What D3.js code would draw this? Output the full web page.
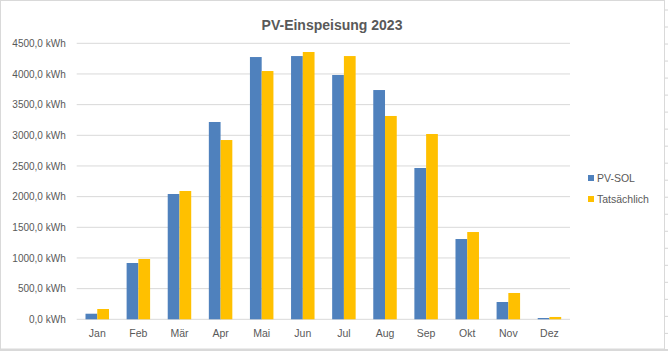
<!DOCTYPE html>
<html>
<head>
<meta charset="utf-8">
<script src="https://cdn.jsdelivr.net/npm/d3@7"></script>
<style>
  body { margin: 0; background: #fff; }
  svg text { font-family: "Liberation Sans", Arial, sans-serif; fill: #595959; }
</style>
</head>
<body>
<div id="chart"></div>
<script>
// Monthly values (kWh)
var months = ["Jan", "Feb", "Mär", "Apr", "Mai", "Jun", "Jul", "Aug", "Sep", "Okt", "Nov", "Dez"];
var pvSol = [91, 918, 2043, 3217, 4276, 4292, 3983, 3738, 2467, 1309, 282, 21];
var actual = [168, 983, 2092, 2923, 4048, 4358, 4292, 3315, 3021, 1423, 429, 38];
var seriesNames = ["PV-SOL", "Tatsächlich"];
var seriesColors = ["#4f81bd", "#ffc000"];
var yTicks = [0, 500, 1000, 1500, 2000, 2500, 3000, 3500, 4000, 4500];

var width = 668, height = 351;
var margin = {top: 43.3, right: 98, bottom: 31.7, left: 76.7};
var innerW = width - margin.left - margin.right,
    innerH = height - margin.top - margin.bottom;

var svg = d3.select("#chart")
  .append("svg")
    .attr("width", width)
    .attr("height", height);

// sheet cell lines peeking around the chart object
[106.5, 223.7, 298, 383.5, 463.6, 559, 626].forEach(function(x) {
  svg.append("line").attr("x1", x).attr("x2", x).attr("y1", 0).attr("y2", 2)
    .attr("stroke", "#d4d4d4");
});
d3.range(10, 351, 17.02).forEach(function(y) {
  svg.append("line").attr("x1", 665).attr("x2", 668).attr("y1", y).attr("y2", y)
    .attr("stroke", "#d4d4d4");
});

// chart frame
svg.append("rect")
  .attr("x", 0.5).attr("y", 0.5)
  .attr("width", 664).attr("height", 348.5)
  .attr("fill", "#fff")
  .attr("stroke", "#d9d9d9");
svg.append("rect")
  .attr("x", 0).attr("y", 349)
  .attr("width", 668).attr("height", 2)
  .attr("fill", "#d9d9d9");

var g = svg.append("g")
  .attr("transform", "translate(" + margin.left + "," + margin.top + ")");

var x = d3.scaleBand()
  .domain(months)
  .range([0, innerW])
  .paddingInner(0.4286)
  .paddingOuter(0.2143);

var x1 = d3.scaleBand()
  .domain(seriesNames)
  .range([0, x.bandwidth()]);

var y = d3.scaleLinear()
  .domain([0, 4500])
  .range([innerH, 0]);

// gridlines
g.selectAll(".grid")
  .data(yTicks)
  .enter()
  .append("line")
    .attr("x1", 0)
    .attr("x2", innerW)
    .attr("y1", function(d) { return y(d); })
    .attr("y2", function(d) { return y(d); })
    .attr("stroke", "#d9d9d9")
    .attr("stroke-width", 1);

// y axis labels
var yAxis = g.append("g")
  .call(d3.axisLeft(y).tickValues(yTicks).tickSize(0).tickPadding(11)
    .tickFormat(function(d) { return d3.format(".1f")(d).replace(".", ",") + " kWh"; }));
yAxis.select(".domain").remove();
yAxis.selectAll("text").style("font-size", "10px").attr("fill", "#595959");

// x axis
var xAxis = g.append("g")
  .attr("transform", "translate(0," + innerH + ")")
  .call(d3.axisBottom(x).tickSize(0).tickPadding(10));
xAxis.select(".domain").remove();
xAxis.selectAll("text").style("font-size", "10.5px").attr("fill", "#595959");

// bars
var rows = months.map(function(m, i) {
  return {month: m, values: [pvSol[i], actual[i]]};
});

var groups = g.selectAll(".month")
  .data(rows)
  .enter()
  .append("g")
    .attr("transform", function(d) { return "translate(" + x(d.month) + ",0)"; });

groups.selectAll("rect")
  .data(function(d) { return d.values.map(function(v, k) { return {name: seriesNames[k], value: v, k: k}; }); })
  .enter()
  .append("rect")
    .attr("x", function(d) { return x1(d.name); })
    .attr("y", function(d) { return y(d.value); })
    .attr("width", x1.bandwidth())
    .attr("height", function(d) { return innerH - y(d.value); })
    .attr("fill", function(d) { return seriesColors[d.k]; });

// title
svg.append("text")
  .attr("x", 332)
  .attr("y", 30)
  .attr("text-anchor", "middle")
  .style("font-size", "14px")
  .style("font-weight", "bold")
  .text("PV-Einspeisung 2023");

// legend
var legend = svg.selectAll(".legend")
  .data(seriesNames)
  .enter()
  .append("g")
    .attr("transform", function(d, i) { return "translate(588," + (178 + i * 21) + ")"; });

legend.append("rect")
  .attr("x", 0).attr("y", -3)
  .attr("width", 6).attr("height", 6)
  .attr("fill", function(d, i) { return seriesColors[i]; });

legend.append("text")
  .attr("x", 9)
  .attr("y", 4)
  .style("font-size", "10.5px")
  .text(function(d) { return d; });
</script>
</body>
</html>
